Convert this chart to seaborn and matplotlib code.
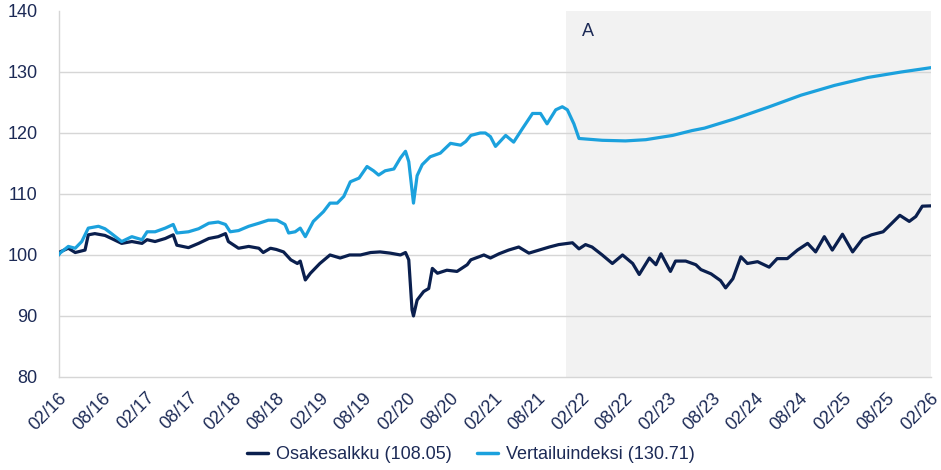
import numpy as np
import pandas as pd
import matplotlib
matplotlib.use("Agg")
import matplotlib.pyplot as plt
import matplotlib.dates as mdates
from matplotlib.lines import Line2D
import seaborn as sns

# ---- data (months elapsed since 2016-02-01, index value) ----
port_months = [0.0, 0.2, 1.35, 2.3, 3.65, 4.1, 5.0, 6.4, 7.3, 8.7, 10.1, 11.5, 12.2, 13.3,
               14.7, 15.8, 16.3, 17.9, 19.3, 20.7, 22.0, 23.0, 23.4, 24.8, 26.2, 27.6,
               28.2, 29.2, 30.0, 31.0, 32.0, 32.9, 33.3, 34.0, 34.7, 36.0, 37.4, 38.8,
               40.1, 41.6, 43.0, 44.3, 45.7, 47.1, 47.8, 48.25, 48.7, 48.9, 49.4, 50.3,
               51.0, 51.5, 52.2, 53.5, 54.9, 56.3, 56.8, 58.6, 59.5, 60.7, 62.0, 63.4,
               64.8, 66.2, 67.6, 68.9, 70.8, 71.7, 72.6, 73.5, 74.9, 76.3, 77.7, 79.1,
               80.0, 81.4, 82.3, 83.0, 84.3, 85.0, 86.4, 87.8, 88.5, 89.9, 91.2, 91.9,
               92.9, 94.0, 94.9, 96.3, 97.9, 99.0, 100.4, 101.8, 103.2, 104.3, 105.5,
               106.6, 108.0, 109.4, 110.8, 112.0, 113.6, 114.8, 115.9, 117.2, 118.1,
               119.0, 120.2]
port_values = [100.0, 100.5, 101.1, 100.4, 100.8, 103.3, 103.5, 103.2, 102.7, 101.9, 102.2,
               101.9, 102.5, 102.2, 102.7, 103.3, 101.6, 101.2, 101.9, 102.7, 103.0, 103.5,
               102.2, 101.1, 101.4, 101.1, 100.4, 101.1, 100.9, 100.5, 99.2, 98.6, 99.0,
               95.9, 97.0, 98.6, 100.0, 99.5, 100.0, 100.0, 100.4, 100.5, 100.3, 100.0,
               100.4, 99.2, 91.0, 90.0, 92.6, 94.0, 94.5, 97.8, 97.0, 97.5, 97.3, 98.4,
               99.2, 100.0, 99.5, 100.2, 100.8, 101.3, 100.3, 100.8, 101.3, 101.7, 102.0,
               101.0, 101.7, 101.3, 100.0, 98.6, 100.0, 98.6, 96.8, 99.5, 98.4, 100.2,
               97.3, 99.0, 99.0, 98.4, 97.6, 96.9, 95.8, 94.6, 96.1, 99.7, 98.6, 98.9,
               98.0, 99.4, 99.4, 100.8, 101.9, 100.5, 103.0, 100.8, 103.4, 100.5, 102.7,
               103.3, 103.8, 105.2, 106.5, 105.5, 106.3, 108.0, 108.05]

bench_months = [0.0, 0.2, 1.35, 2.3, 3.2, 4.1, 5.5, 6.4, 7.3, 8.7, 10.1, 11.5, 12.2, 13.3,
                14.7, 15.8, 16.3, 17.9, 19.3, 20.7, 22.0, 23.0, 23.65, 24.8, 26.2, 27.6,
                28.9, 30.1, 31.2, 31.7, 32.6, 33.3, 34.0, 35.1, 36.5, 37.4, 38.4, 39.3,
                40.2, 41.4, 42.5, 43.4, 44.1, 45.0, 46.2, 47.1, 47.8, 48.25, 48.9, 49.4,
                50.1, 51.2, 52.6, 54.0, 55.4, 56.1, 56.8, 58.1, 58.8, 59.5, 60.2, 61.6,
                62.7, 63.9, 65.3, 66.4, 67.3, 68.5, 69.4, 70.1, 71.0, 71.7, 74.9, 78.1,
                80.9, 84.6, 87.3, 89.0, 93.1, 97.7, 102.3, 106.9, 111.5, 116.1, 120.2]
bench_values = [100.0, 100.3, 101.4, 101.1, 102.2, 104.4, 104.7, 104.3, 103.5, 102.2, 103.0,
                102.5, 103.8, 103.8, 104.4, 105.0, 103.6, 103.8, 104.3, 105.2, 105.4, 105.0,
                103.8, 104.0, 104.7, 105.2, 105.7, 105.7, 105.0, 103.6, 103.8, 104.4, 103.0,
                105.5, 107.1, 108.5, 108.5, 109.6, 112.0, 112.6, 114.5, 113.8, 113.1, 113.8,
                114.1, 115.9, 117.0, 115.3, 108.5, 113.0, 114.8, 116.1, 116.7, 118.3, 118.0,
                118.6, 119.6, 120.0, 120.0, 119.4, 117.8, 119.6, 118.5, 120.7, 123.2, 123.2,
                121.5, 123.8, 124.3, 123.8, 121.5, 119.1, 118.8, 118.7, 118.9, 119.6, 120.4,
                120.8, 122.3, 124.2, 126.2, 127.8, 129.1, 130.0, 130.71]

series_names = ["Osakesalkku (108.05)", "Vertailuindeksi (130.71)"]
series_colors = ["#0a1f4e", "#1ba1dd"]
shade_start = "2021-12-01"
shade_label = "A"
y_ticks = [80, 90, 100, 110, 120, 130, 140]

# ---- build table ----
base = pd.Timestamp("2016-02-01")
def to_dates(months):
    return base + pd.to_timedelta(np.array(months) * 30.4375, unit="D")

df = pd.concat([
    pd.DataFrame({"date": to_dates(port_months), "value": port_values, "series": series_names[0]}),
    pd.DataFrame({"date": to_dates(bench_months), "value": bench_values, "series": series_names[1]}),
], ignore_index=True)

sns.set_theme(style="white")
plt.rcParams["font.family"] = ["Liberation Sans", "DejaVu Sans"]

fig = plt.figure(figsize=(9.41, 4.70), dpi=100)
ax = fig.add_axes([0.0622, 0.198, 0.9268, 0.7786])

text_color = "#1c2a56"
grid_color = "#d6d6d6"
fs = 13

x_end = pd.Timestamp("2026-02-05")
ax.axvspan(pd.Timestamp(shade_start), x_end, color="#f2f2f2", zorder=0, lw=0)

sns.lineplot(data=df, x="date", y="value", hue="series", hue_order=series_names,
             palette=series_colors, estimator=None, linewidth=2.3, legend=False, ax=ax,
             zorder=3)

ax.set_xlim(base, x_end)
ax.set_ylim(80, 140)
ax.set_yticks(y_ticks)
ax.set_xlabel("")
ax.set_ylabel("")

ax.yaxis.grid(True, color=grid_color, linewidth=1.0, zorder=1)
ax.set_axisbelow(True)
for gl, t in zip(ax.get_ygridlines(), y_ticks):
    if t in (80, 140):
        gl.set_visible(False)

for s in ["top", "right"]:
    ax.spines[s].set_visible(False)
ax.spines["left"].set_color(grid_color)
ax.spines["bottom"].set_color(grid_color)
ax.spines["left"].set_linewidth(1.0)
ax.spines["bottom"].set_linewidth(1.0)

xt = pd.date_range("2016-02-01", "2026-02-01", freq="6MS")
ax.set_xticks(xt)
ax.xaxis.set_major_formatter(mdates.DateFormatter("%m/%y"))
ax.tick_params(axis="x", which="major", length=7, width=1, color="#c9d2e6",
               labelsize=fs, labelcolor=text_color, pad=2)
ax.tick_params(axis="y", length=0, labelsize=fs, labelcolor=text_color, pad=15)
for lab in ax.get_xticklabels():
    lab.set_rotation(45)
    lab.set_ha("right")
    lab.set_va("top")
    lab.set_rotation_mode("anchor")

ax.text(pd.Timestamp("2022-03-01"), 136.7, shade_label, color=text_color,
        fontsize=fs, ha="center", va="center")

handles = [Line2D([0], [0], color=c, lw=2.5) for c in series_colors]
fig.legend(handles, series_names, loc="lower center", ncol=2, frameon=False,
           bbox_to_anchor=(0.5, -0.02), fontsize=fs, handlelength=1.2,
           handletextpad=0.4, columnspacing=1.4, labelcolor=text_color)

fig.savefig("out.png", dpi=100)
